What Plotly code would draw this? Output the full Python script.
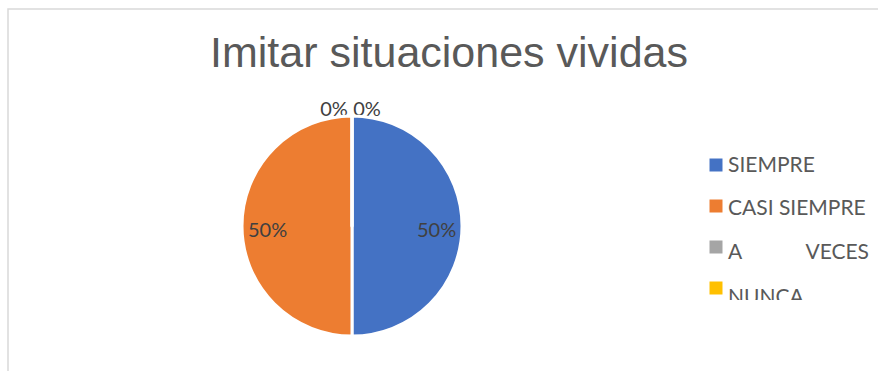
import math
import plotly.graph_objects as go

title = "Imitar situaciones vividas"
categories = ["SIEMPRE", "CASI SIEMPRE", "A VECES", "NUNCA"]
values = [50, 50, 0, 0]
colors = ["#4472C4", "#ED7D31", "#A5A5A5", "#FFC000"]

W, H = 878, 371
total = sum(values)
pct = [round(100 * v / total) for v in values]

# pie geometry (pixels)
CX, CY, R = 352, 226, 110
CLIP_Y = 300   # bottom of the clipped legend area
ZCLIP_Y = 116  # bottom of the clipped zero-label area

fig = go.Figure()
fig.add_trace(go.Pie(
    labels=categories, values=values, sort=False, direction="clockwise", rotation=0,
    marker=dict(colors=colors, line=dict(color="white", width=3)),
    textinfo="none", showlegend=False, hoverinfo="label+percent",
    domain=dict(x=[(CX - R) / W, (CX + R) / W], y=[(H - CY - R) / H, (H - CY + R) / H]),
))

# percentage labels of non-zero slices (placed at slice mid-angle)
cum = 0
for v, p in zip(values, pct):
    if v > 0:
        mid = 2 * math.pi * (cum + v / 2) / total
        fig.add_annotation(
            x=CX + 0.77 * R * math.sin(mid), y=CY - 0.77 * R * math.cos(mid) + 3,
            xref="x", yref="y", text="%d%%" % p, showarrow=False,
            xanchor="center", yanchor="middle",
            font=dict(family="Lato", size=20, color="#404040"),
        )
    cum += v

# labels of zero slices, stacked at the top of the pie (clipped at their bottom)
zero = [i for i, v in enumerate(values) if v == 0]
fig.add_trace(go.Scatter(
    x=[CX - 18 + 33 * k for k in range(len(zero))], y=[111] * len(zero),
    xaxis="x2", yaxis="y2",
    mode="text", text=["%d%%" % pct[i] for i in zero], textposition="middle center",
    textfont=dict(family="Lato", size=20, color="#404040"),
    showlegend=False, hoverinfo="skip", cliponaxis=True,
))

# custom legend
LX = 716
marker_y = [165, 206, 247, 288]
text_y = [167, 210, 254, 299]
LW = 137
fig.add_trace(go.Scatter(
    x=[LX] * len(categories), y=marker_y,
    mode="markers", marker=dict(symbol="square", size=13, color=colors, line=dict(width=0)),
    showlegend=False, hoverinfo="skip", cliponaxis=True,
))
left_txt, left_y, right_txt, right_y = [], [], [], []
for i, lab in enumerate(categories):
    if lab == "A VECES":
        a, b = lab.split(" ")
        left_txt.append(a); left_y.append(text_y[i])
        right_txt.append(b); right_y.append(text_y[i])
    else:
        left_txt.append(lab); left_y.append(text_y[i])
fig.add_trace(go.Scatter(
    x=[LX + 12] * len(left_txt), y=left_y, mode="text", text=left_txt,
    textposition="middle right", textfont=dict(family="Lato", size=21, color="#595959"),
    showlegend=False, hoverinfo="skip", cliponaxis=True,
))
fig.add_trace(go.Scatter(
    x=[LX + 12 + LW + 4] * len(right_txt), y=right_y, mode="text", text=right_txt,
    textposition="middle left", textfont=dict(family="Lato", size=21, color="#595959"),
    showlegend=False, hoverinfo="skip", cliponaxis=True,
))

fig.add_shape(type="rect", xref="paper", yref="paper",
              x0=8 / W, x1=1.02, y0=-0.02, y1=1 - 9 / H,
              line=dict(color="#D9D9D9", width=1.5), layer="below")

fig.update_layout(
    width=W, height=H, margin=dict(l=0, r=0, t=0, b=0),
    paper_bgcolor="white", plot_bgcolor="rgba(0,0,0,0)",
    title=dict(text=title, x=449 / W, xanchor="center", y=1 - 52 / H, yanchor="middle",
               font=dict(family="Liberation Sans, Arial", size=43, color="#595959")),
    xaxis=dict(visible=False, range=[0, W], domain=[0, 1], fixedrange=True),
    yaxis=dict(visible=False, range=[CLIP_Y, 0], domain=[(H - CLIP_Y) / H, 1], fixedrange=True),
    xaxis2=dict(visible=False, range=[0, W], domain=[0, 1], fixedrange=True, anchor="y2"),
    yaxis2=dict(visible=False, range=[ZCLIP_Y, 0], domain=[(H - ZCLIP_Y) / H, 1],
                fixedrange=True, anchor="x2"),
    showlegend=False,
)

fig.write_html("out.html")
